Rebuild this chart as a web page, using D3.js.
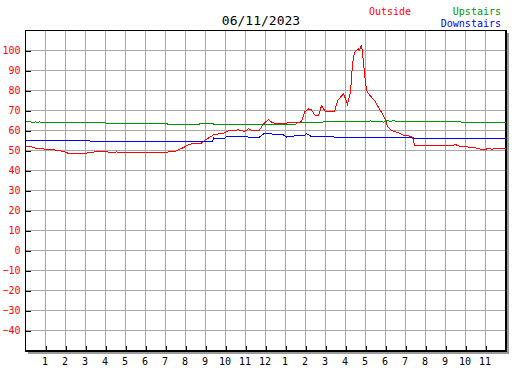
<!DOCTYPE html>
<html>
<head>
<meta charset="utf-8">
<script src="https://cdn.jsdelivr.net/npm/d3@7"></script>
<style>
  body { margin: 0; background: #fff; }
  svg { display: block; font-family: "DejaVu Sans Mono", monospace; }
</style>
</head>
<body>
<div id="chart"></div>
<script>
// chart data, [hour of day, degrees]
var title = "06/11/2023";
var hourLabels = ["1","2","3","4","5","6","7","8","9","10","11","12","1","2","3","4","5","6","7","8","9","10","11"];
var tempTicks = [-40, -30, -20, -10, 0, 10, 20, 30, 40, 50, 60, 70, 80, 90, 100];

var outside = [
  [0, 52.3], [0.3, 51.8], [0.45, 51.3], [0.85, 50.8], [1.45, 50.3], [1.8, 49.7],
  [2.05, 49.0], [2.15, 48.5], [3.05, 48.5], [3.1, 49.0], [3.8, 49.5], [4.05, 49.3],
  [4.4, 49.0], [4.55, 49.3], [4.7, 49.0], [6.8, 49.0], [7.45, 49.5], [7.8, 51.0],
  [8.15, 52.8], [8.3, 53.3], [8.8, 53.7], [8.95, 55.0], [9.4, 57.8], [9.65, 58.3],
  [9.95, 58.8], [10.15, 60.0], [10.65, 60.3], [10.95, 59.5], [11.15, 60.8], [11.3, 60.2],
  [11.7, 60.2], [11.9, 63.3], [12.15, 65.5], [12.3, 64.2], [12.55, 63.3], [12.9, 63.3],
  [13.15, 64.0], [13.45, 64.2], [13.65, 63.8], [13.8, 64.5], [13.95, 69.2], [14.15, 70.8],
  [14.3, 70.3], [14.5, 67.3], [14.65, 67.3], [14.8, 72.3], [15.0, 69.5], [15.45, 69.5],
  [15.6, 74.8], [15.9, 78.5], [16.1, 73.2], [16.25, 79.2], [16.35, 93.0], [16.45, 99.0],
  [16.65, 100.8], [16.7, 100.0], [16.8, 102.8], [16.9, 94.0], [16.95, 88.3], [17.05, 80.0],
  [17.2, 77.8], [17.45, 75.0], [17.7, 70.8], [17.95, 66.5], [18.1, 62.0], [18.3, 60.0],
  [18.65, 58.8], [18.9, 57.7], [19.2, 57.2], [19.35, 56.7], [19.45, 52.6], [21.4, 52.6],
  [21.5, 53.0], [21.65, 52.3], [22.25, 51.6], [22.55, 51.2], [22.85, 50.4], [23.2, 51.0],
  [23.3, 50.6], [23.45, 51.0], [23.6, 50.8], [24, 50.8]
];

var upstairs = [
  [0, 64.5], [0.25, 64.5], [0.3, 64.0], [0.45, 64.0], [0.5, 64.5], [0.55, 64.0],
  [0.65, 64.0], [0.7, 64.5], [0.75, 64.0], [4.0, 64.0], [4.05, 63.3], [7.1, 63.3],
  [7.15, 62.9], [8.65, 62.9], [8.7, 63.3], [9.4, 63.3], [9.45, 62.9], [13.5, 62.9],
  [13.55, 63.8], [14.85, 63.8], [14.9, 64.5], [17.2, 64.5], [17.25, 65.0], [17.3, 64.5],
  [17.85, 64.5], [17.9, 64.1], [17.95, 64.5], [18.15, 65.0], [18.2, 64.5], [18.45, 65.0],
  [18.5, 64.5], [21.75, 64.5], [21.8, 64.0], [24, 64.0]
];

var downstairs = [
  [0, 54.9], [3.2, 54.9], [3.25, 54.4], [9.35, 54.4], [9.4, 56.2], [9.45, 55.8],
  [9.95, 55.8], [10.0, 56.7], [10.3, 57.2], [11.05, 57.2], [11.15, 56.7], [11.5, 56.3],
  [11.7, 56.7], [11.9, 58.3], [12.3, 58.3], [12.45, 57.8], [12.9, 57.8], [13.05, 56.7],
  [13.3, 57.2], [13.9, 57.4], [14.05, 58.3], [14.3, 57.0], [15.4, 57.0], [15.5, 56.3],
  [19.4, 56.3], [19.45, 55.8], [24, 55.8]
];

var width = 527, height = 370;
var plotLeft = 25, plotTop = 30, plotRight = 505, plotBottom = 350;

var svg = d3.select("#chart").append("svg")
  .attr("width", width)
  .attr("height", height);

var x = d3.scaleLinear().domain([0, 24]).range([plotLeft + 0.5, plotRight + 0.5]);
var y = d3.scaleLinear().domain([-50, 110]).range([plotBottom + 0.5, plotTop + 0.5]);

// drop shadow of the frame
svg.append("rect").attr("x", plotRight + 2).attr("y", plotTop + 3).attr("width", 2).attr("height", plotBottom - plotTop + 1)
  .attr("fill", "#999");
svg.append("rect").attr("x", plotLeft + 3).attr("y", plotBottom + 2).attr("width", plotRight - plotLeft + 1).attr("height", 2)
  .attr("fill", "#999");

// grid
var grid = svg.append("g").attr("stroke", "#a8a8a8").attr("stroke-width", 1).attr("shape-rendering", "crispEdges");
grid.selectAll("line.v").data(d3.range(1, 24)).enter().append("line")
  .attr("x1", function(d){ return x(d); }).attr("x2", function(d){ return x(d); })
  .attr("y1", plotTop).attr("y2", plotBottom);
grid.selectAll("line.h").data(tempTicks).enter().append("line")
  .attr("x1", plotLeft).attr("x2", plotRight)
  .attr("y1", function(d){ return y(d); }).attr("y2", function(d){ return y(d); });

// axes
var yAxis = d3.axisLeft(y).tickValues(tempTicks).tickSize(-5).tickPadding(5);
var yg = svg.append("g").attr("transform", "translate(" + (plotLeft + 0.5) + ",0)").call(yAxis);
yg.select(".domain").remove();
yg.selectAll("line").attr("stroke", "#000").attr("shape-rendering", "crispEdges");
yg.selectAll("text").attr("fill", "#f00").attr("font-size", 10).attr("font-family", "DejaVu Sans Mono");

var xAxis = d3.axisBottom(x).tickValues(d3.range(1, 24)).tickSize(-4).tickPadding(8)
  .tickFormat(function(d){ return hourLabels[d - 1]; });
var xg = svg.append("g").attr("transform", "translate(-1," + plotBottom + ")").call(xAxis);
xg.select(".domain").remove();
xg.selectAll("line").attr("stroke", "#000").attr("shape-rendering", "crispEdges").attr("transform", "translate(1,0)");
xg.selectAll("text").attr("fill", "#000").attr("font-size", 10).attr("font-family", "DejaVu Sans Mono");

// frame
var frame = svg.append("g").attr("fill", "#000").attr("shape-rendering", "crispEdges");
frame.append("rect").attr("x", plotLeft).attr("y", plotTop).attr("width", plotRight - plotLeft + 2).attr("height", 1);
frame.append("rect").attr("x", plotLeft).attr("y", plotTop).attr("width", 1).attr("height", plotBottom - plotTop + 2);
frame.append("rect").attr("x", plotRight).attr("y", plotTop).attr("width", 2).attr("height", plotBottom - plotTop + 2);
frame.append("rect").attr("x", plotLeft).attr("y", plotBottom).attr("width", plotRight - plotLeft + 2).attr("height", 2);

// series
var line = d3.line()
  .x(function(d){ return x(d[0]); })
  .y(function(d){ return y(d[1]); });

var series = [
  {data: upstairs, color: "#009400"},
  {data: downstairs, color: "#0000ff"},
  {data: outside, color: "#ff0000"}
];
series.forEach(function(s){
  svg.append("path")
    .attr("d", line(s.data))
    .attr("fill", "none")
    .attr("stroke", s.color)
    .attr("stroke-width", 1)
    .attr("shape-rendering", "crispEdges");
});

// title and legend
svg.append("text").attr("x", 261).attr("y", 25).attr("text-anchor", "middle")
  .attr("font-size", 13).attr("fill", "#000").text(title);
svg.append("text").attr("x", 369).attr("y", 15).attr("font-size", 10).attr("fill", "#f00").text("Outside");
svg.append("text").attr("x", 501).attr("y", 15).attr("text-anchor", "end").attr("font-size", 10).attr("fill", "#009400").text("Upstairs");
svg.append("text").attr("x", 501).attr("y", 27).attr("text-anchor", "end").attr("font-size", 10).attr("fill", "#0000ff").text("Downstairs");
</script>
</body>
</html>
